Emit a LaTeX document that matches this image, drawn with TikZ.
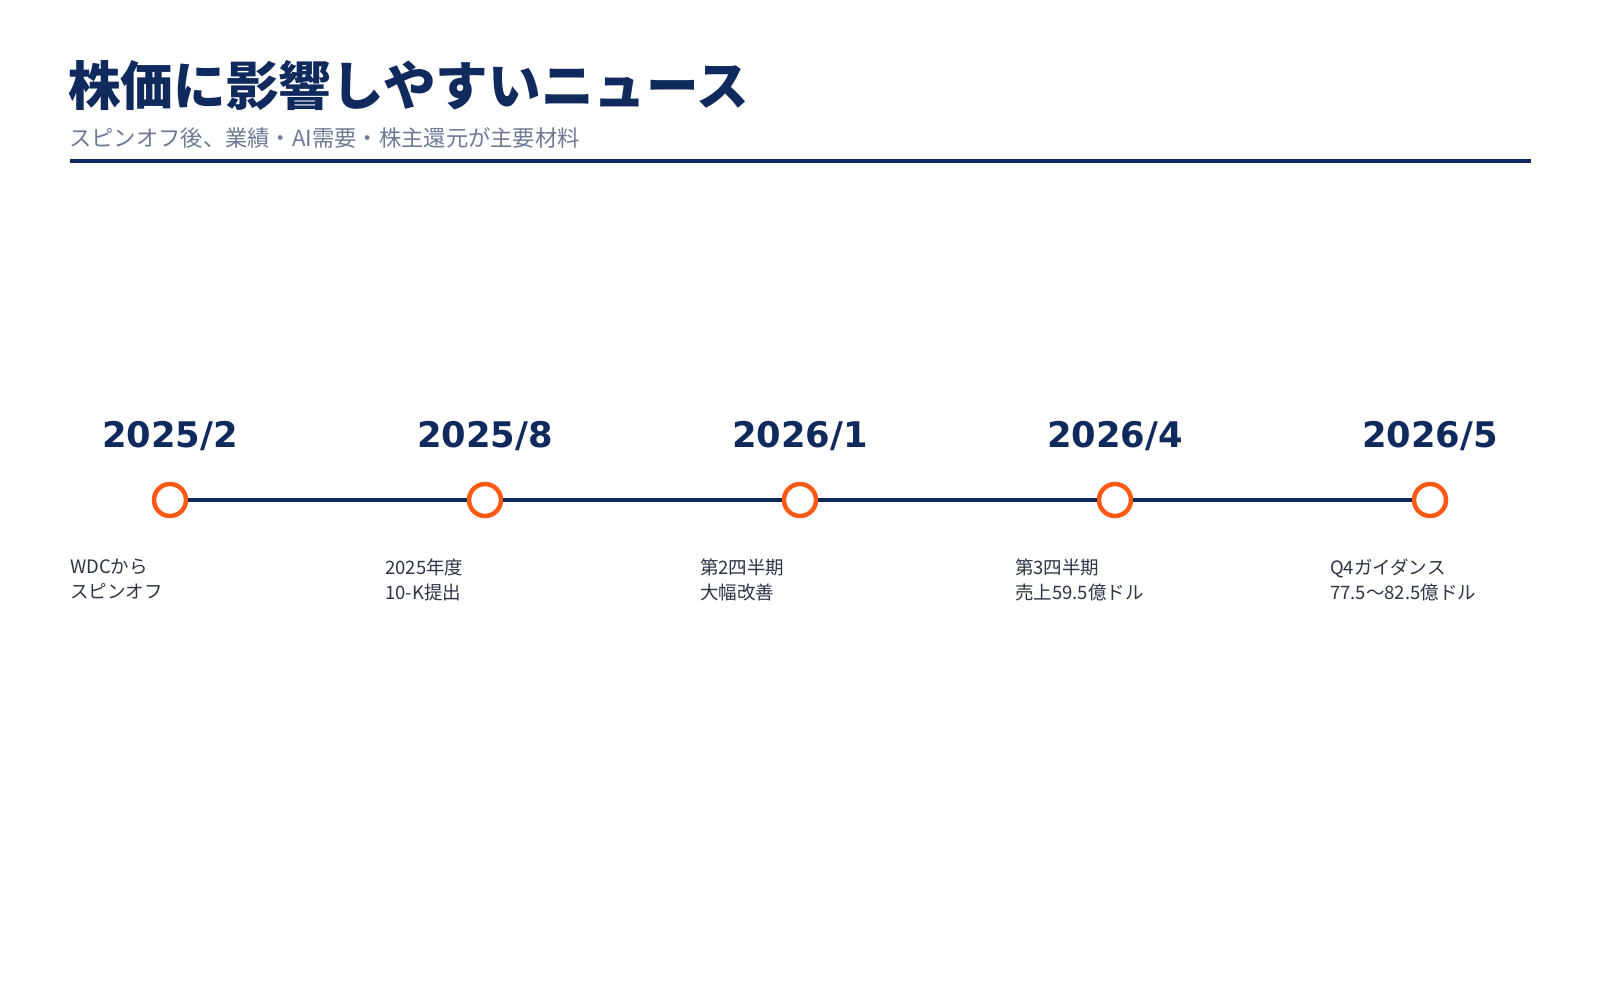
\documentclass[tikz,border=0pt]{standalone}
\usepackage{fontspec}
\setmainfont{Noto Sans CJK JP}
\newfontfamily\datefont{DejaVu Sans}
\usetikzlibrary{positioning}
\definecolor{navy}{RGB}{16,42,94}
\definecolor{subgray}{RGB}{110,122,148}
\definecolor{labelgray}{RGB}{45,52,68}
\definecolor{mark}{RGB}{255,90,20}

\begin{document}
\begin{tikzpicture}[x=1pt,y=-1pt,
  dot/.style={circle,draw=mark,fill=white,line width=4.5pt,minimum size=32pt,inner sep=0pt},
  datelabel/.style={font=\datefont\bfseries\fontsize{35.3}{40}\selectfont,text=navy,inner sep=0pt},
  eventlabel/.style={font=\fontsize{18.5}{24.5}\selectfont,text=labelgray,align=left,anchor=north west,inner sep=0pt}]
\useasboundingbox (0,0) rectangle (1600,1000);
\node[anchor=west,inner sep=0pt,text=navy,font=\bfseries\fontsize{52.6}{60}\selectfont] (title) at (68,85) {株価に影響しやすいニュース};
\node[anchor=west,inner sep=0pt,text=subgray,font=\fontsize{22.3}{26}\selectfont] (subtitle) at (69,138) {スピンオフ後、業績・AI需要・株主還元が主要材料};
\coordinate (ruleL) at (70,161);
\coordinate (ruleR) at (1531,161);
\draw[navy,line width=4pt] (ruleL) -- (ruleR);
% timeline points
\foreach \i/\x in {1/170,2/485,3/800,4/1115,5/1430}
  \node[dot] (c\i) at (\x,500) {};
\draw[navy,line width=4.5pt] (c1) -- (c2) -- (c3) -- (c4) -- (c5);
\foreach \i/\d in {1/2025\slash 2,2/2025\slash 8,3/2026\slash 1,4/2026\slash 4,5/2026\slash 5}
  \node[datelabel] (d\i) at ([yshift=64pt]c\i) {\d};
\node[eventlabel] (l1) at ([xshift=-100pt,yshift=-59pt]c1) {WDCから\\スピンオフ};
\node[eventlabel] (l2) at ([xshift=-100pt,yshift=-59pt]c2) {2025年度\\10-K提出};
\node[eventlabel] (l3) at ([xshift=-100pt,yshift=-59pt]c3) {第2四半期\\大幅改善};
\node[eventlabel] (l4) at ([xshift=-100pt,yshift=-59pt]c4) {第3四半期\\売上59.5億ドル};
\node[eventlabel] (l5) at ([xshift=-100pt,yshift=-59pt]c5) {Q4ガイダンス\\77.5〜82.5億ドル};
\end{tikzpicture}
\end{document}
